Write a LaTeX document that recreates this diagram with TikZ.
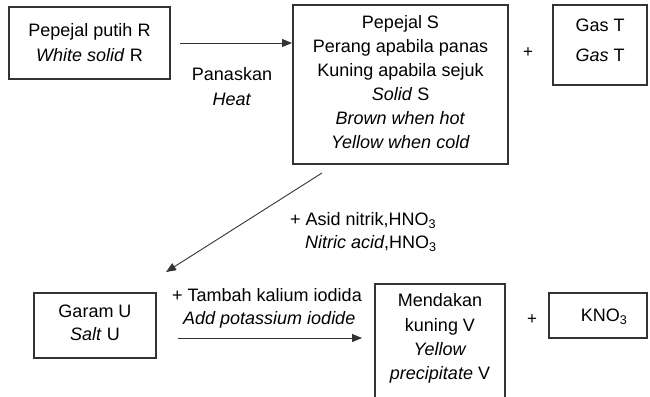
\documentclass[tikz,border=0pt]{standalone}
\usepackage{fontspec}
\setmainfont{Liberation Sans}
\usetikzlibrary{arrows.meta}
\begin{document}
\begin{tikzpicture}[x=1pt,y=-1pt,
  box/.style={draw=black!80, line width=1.2pt, inner sep=0pt, outer sep=0pt, anchor=north west},
  txt/.style={font=\fontsize{18}{24}\selectfont, align=center, inner sep=0pt, text=black},
  ltxt/.style={font=\fontsize{18}{24}\selectfont, inner sep=0pt, text=black, anchor=base west},
  plus/.style={font=\fontsize{17}{18}\selectfont, inner sep=0pt},
  arr/.style={draw=black!80, line width=0.9pt, -{Triangle[length=10pt,width=8pt]}}]
\clip (0,0) rectangle (650,396);
% boxes
\node[box, minimum width=161pt, minimum height=72pt] (R) at (9,7) {};
\node[box, minimum width=215pt, minimum height=159pt] (S) at (293,5) {};
\node[box, minimum width=94pt, minimum height=80pt] (T) at (553,5) {};
\node[box, minimum width=122pt, minimum height=65pt] (U) at (34,293) {};
\node[box, minimum width=130pt, minimum height=140pt] (V) at (375,284) {};
\node[box, minimum width=98pt, minimum height=45pt] (K) at (549,293) {};
% box texts
\node[txt, font=\fontsize{18}{25}\selectfont] (tR) at (89.5,42.5) {Pepejal putih R\\\textit{White solid} R};
\node[txt] (tS) at (400.5,82.5) {Pepejal S\\Perang apabila panas\\Kuning apabila sejuk\\\textit{Solid} S\\\textit{Brown when hot}\\\textit{Yellow when cold}};
\node[txt, font=\fontsize{18}{30}\selectfont] (tT) at (600,40) {Gas T\\\textit{Gas} T};
\node[txt, font=\fontsize{18}{23}\selectfont] (tU) at (95,322.5) {Garam U\\\textit{Salt} U};
\node[txt, font=\fontsize{18}{24.3}\selectfont] (tV) at (440,338.5) {Mendakan\\kuning V\\\textit{Yellow}\\\textit{precipitate} V};
\node[txt] (tK) at (604,317) {KNO\textsubscript{3}};
% labels
\node[txt, font=\fontsize{18}{25}\selectfont] (heat) at (232,86.5) {Panaskan\\\textit{Heat}};
\node[ltxt] (asid1) at (290,225.5) {+ Asid nitrik,HNO\textsubscript{3}};
\node[ltxt] (asid2) at (305,248.5) {\textit{Nitric acid},HNO\textsubscript{3}};
\node[ltxt] (ki1) at (172,301.5) {+ Tambah kalium iodida};
\node[ltxt] (ki2) at (183,324.5) {\textit{Add potassium iodide}};
\node[plus] (p1) at (528,53) {+};
\node[plus] (p2) at (532,320) {+};
% arrows
\draw[arr, shorten <=10pt, shorten >=1pt] (R.east) -- (R.east -| S.west);
\coordinate (d1) at (322,173);
\coordinate (d2) at (166,272);
\draw[arr] (d1) -- (d2);
\coordinate (b1) at (178,338);
\draw[arr, shorten >=13pt] (b1) -- (b1 -| V.west);
\end{tikzpicture}
\end{document}
